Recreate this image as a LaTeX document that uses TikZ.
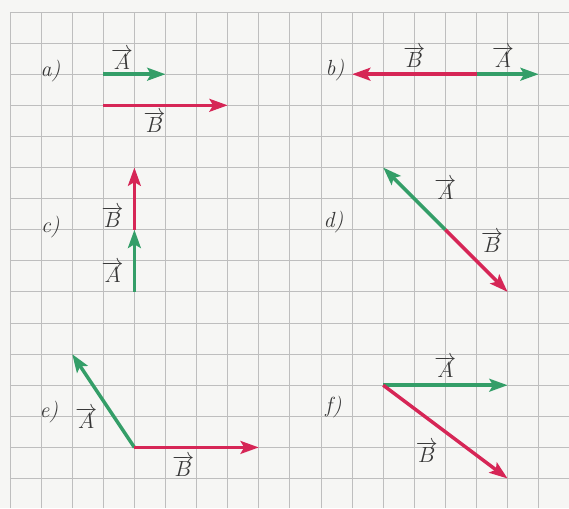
\documentclass[tikz,border=0pt]{standalone}
\usetikzlibrary{arrows.meta}
\definecolor{vgreen}{RGB}{52,158,104}
\definecolor{vred}{RGB}{214,38,86}
\definecolor{gridc}{RGB}{190,190,190}
\definecolor{paper}{RGB}{246,246,244}
\definecolor{ink}{RGB}{55,55,55}
\newcommand{\vlab}[1]{$\overrightarrow{#1}$}
\tikzset{
  gridline/.style={draw=gridc, line width=0.5pt},
  vec/.style={line width=1.9pt, -{Stealth[length=10pt,width=7pt,inset=2pt]}},
  vecA/.style={vec, vgreen},
  vecB/.style={vec, vred},
  lbl/.style={text=ink, inner sep=0pt, font=\fontsize{12}{14}\selectfont},
  part/.style={text=ink, inner sep=0pt, font=\fontsize{12}{14}\selectfont\itshape}
}
\begin{document}
\begin{tikzpicture}[x=0.6cm,y=0.6cm]
\fill[paper] (-0.3215,-15.949) rectangle (17.974,0.386);
\useasboundingbox (-0.3215,-15.949) rectangle (17.974,0.386);
\draw[gridline, step=0.6cm] (0,-15.949) grid (17.974,0);

% a)
\node[part] (la) at (1.3,-1.9) {a)};
\coordinate (a0) at (3,-2);
\coordinate (aA) at (5,-2);
\coordinate (b0) at (3,-3);
\coordinate (aB) at (7,-3);
\draw[vecA] (a0) -- (aA);
\draw[vecB] (b0) -- (aB);
\node[lbl] (aAl) at (3.6,-1.5) {\vlab{A}};
\node[lbl] (aBl) at (4.65,-3.55) {\vlab{B}};

% b)
\node[part] (lb) at (10.45,-1.85) {b)};
\coordinate (bo) at (15,-2);
\coordinate (bA) at (17,-2);
\coordinate (bB) at (11,-2);
\draw[vecB] (bo) -- (bB);
\draw[vecA] (bo) -- (bA);
\node[lbl] (bBl) at (13.0,-1.45) {\vlab{B}};
\node[lbl] (bAl) at (15.85,-1.45) {\vlab{A}};

% c)
\node[part] (lc) at (1.3,-6.9) {c)};
\coordinate (co) at (4,-9);
\coordinate (cA) at (4,-7);
\coordinate (cB) at (4,-5);
\draw[vecA] (co) -- (cA);
\draw[vecB] (cA) -- (cB);
\node[lbl] (cBl) at (3.3,-6.6) {\vlab{B}};
\node[lbl] (cAl) at (3.3,-8.35) {\vlab{A}};

% d)
\node[part] (ld) at (10.4,-6.75) {d)};
\coordinate (do) at (14,-7);
\coordinate (dA) at (12,-5);
\coordinate (dB) at (16,-9);
\draw[vecA] (do) -- (dA);
\draw[vecB] (do) -- (dB);
\node[lbl] (dAl) at (14.0,-5.7) {\vlab{A}};
\node[lbl] (dBl) at (15.5,-7.4) {\vlab{B}};

% e)
\node[part] (le) at (1.25,-12.85) {e)};
\coordinate (eo) at (4,-14);
\coordinate (eA) at (2,-11);
\coordinate (eB) at (8,-14);
\draw[vecA] (eo) -- (eA);
\draw[vecB] (eo) -- (eB);
\node[lbl] (eAl) at (2.45,-13.05) {\vlab{A}};
\node[lbl] (eBl) at (5.57,-14.6) {\vlab{B}};

% f)
\node[part] (lf) at (10.4,-12.7) {f)};
\coordinate (fo) at (12,-12);
\coordinate (fA) at (16,-12);
\coordinate (fB) at (16,-15);
\draw[vecA] (fo) -- (fA);
\draw[vecB] (fo) -- (fB);
\node[lbl] (fAl) at (14.0,-11.4) {\vlab{A}};
\node[lbl] (fBl) at (13.4,-14.15) {\vlab{B}};
\end{tikzpicture}
\end{document}
